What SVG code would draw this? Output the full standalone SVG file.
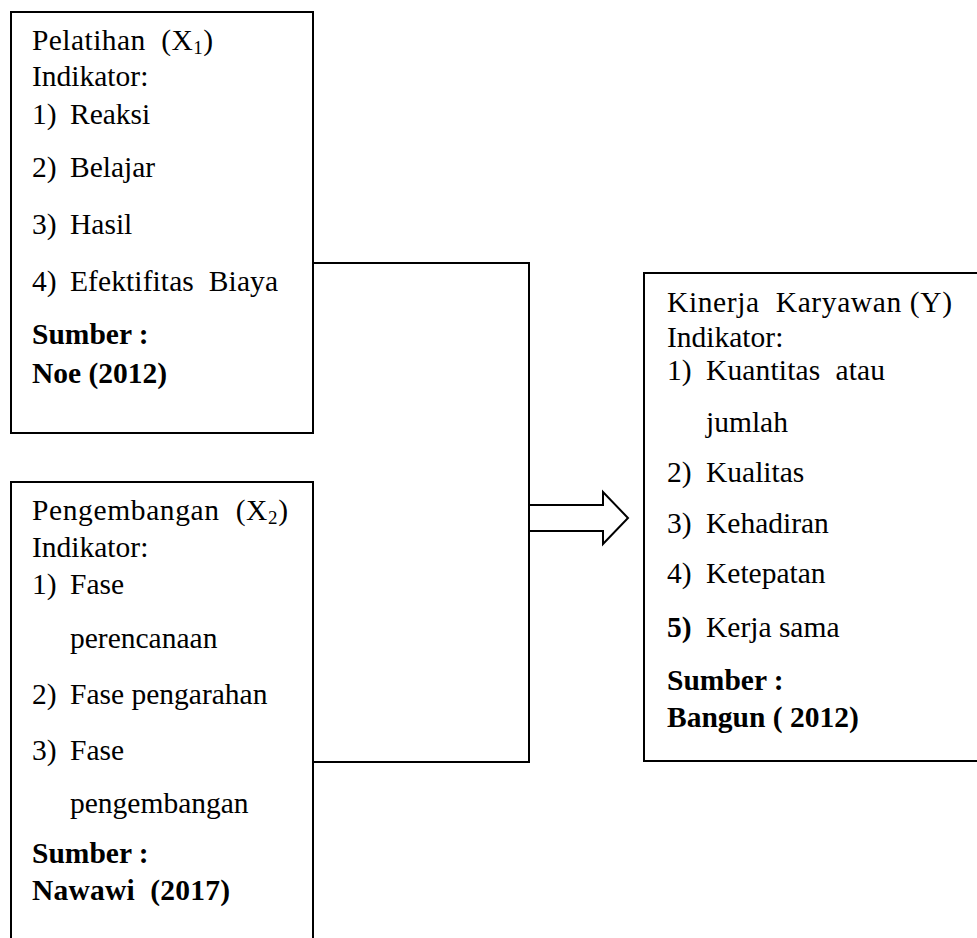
<svg xmlns="http://www.w3.org/2000/svg" width="977" height="938" viewBox="0 0 977 938">
<style>
  .box { fill: #fff; stroke: #000; stroke-width: 2; }
  .t { font-family: "Liberation Serif", "Times New Roman", serif; font-size: 29.5px; fill: #000; white-space: pre; }
  .b { font-weight: bold; }
  .sub { font-size: 19px; }
  .conn { fill: none; stroke: #000; stroke-width: 2; }
</style>
<rect width="977" height="938" fill="#fff"/>
<g id="connectors">
  <polyline class="conn" points="313,263 529,263 529,762 313,762"/>
  <polygon class="conn" points="529,505 603,505 603,492 628,518 603,544 603,531 529,531" fill="#fff"/>
</g>
<g id="node-x1">
  <rect class="box" x="11" y="12" width="302" height="421"/>
  <text class="t" x="32" y="50" textLength="181" lengthAdjust="spacing">Pelatihan  (X<tspan class="sub" dy="4">1</tspan><tspan dy="-4">)</tspan></text>
  <text class="t" x="32" y="86">Indikator:</text>
  <text class="t" x="32" y="124">1)</text><text class="t" x="70" y="124">Reaksi</text>
  <text class="t" x="32" y="177">2)</text><text class="t" x="70" y="177">Belajar</text>
  <text class="t" x="32" y="234">3)</text><text class="t" x="70" y="234">Hasil</text>
  <text class="t" x="32" y="291">4)</text><text class="t" x="70" y="291" textLength="208" lengthAdjust="spacing">Efektifitas  Biaya</text>
  <text class="t b" x="32" y="344">Sumber :</text>
  <text class="t b" x="32" y="383">Noe (2012)</text>
</g>
<g id="node-x2">
  <path class="box" d="M11,945 V482 H313 V945"/>
  <text class="t" x="32" y="520" textLength="256" lengthAdjust="spacing">Pengembangan  (X<tspan class="sub" dy="4">2</tspan><tspan dy="-4">)</tspan></text>
  <text class="t" x="32" y="557">Indikator:</text>
  <text class="t" x="32" y="594">1)</text><text class="t" x="70" y="594">Fase</text>
  <text class="t" x="70" y="648">perencanaan</text>
  <text class="t" x="32" y="704">2)</text><text class="t" x="70" y="704">Fase pengarahan</text>
  <text class="t" x="32" y="760">3)</text><text class="t" x="70" y="760">Fase</text>
  <text class="t" x="70" y="813">pengembangan</text>
  <text class="t b" x="32" y="863">Sumber :</text>
  <text class="t b" x="32" y="900" textLength="198" lengthAdjust="spacing">Nawawi  (2017)</text>
</g>
<g id="node-y">
  <rect class="box" x="644" y="273" width="345" height="488"/>
  <text class="t" x="667" y="312" textLength="285" lengthAdjust="spacing">Kinerja  Karyawan (Y)</text>
  <text class="t" x="667" y="347">Indikator:</text>
  <text class="t" x="667" y="380">1)</text><text class="t" x="706" y="380" textLength="179" lengthAdjust="spacing">Kuantitas  atau</text>
  <text class="t" x="706" y="432">jumlah</text>
  <text class="t" x="667" y="482">2)</text><text class="t" x="706" y="482">Kualitas</text>
  <text class="t" x="667" y="533">3)</text><text class="t" x="706" y="533">Kehadiran</text>
  <text class="t" x="667" y="583">4)</text><text class="t" x="706" y="583">Ketepatan</text>
  <text class="t b" x="667" y="637">5)</text><text class="t" x="706" y="637">Kerja sama</text>
  <text class="t b" x="667" y="690">Sumber :</text>
  <text class="t b" x="667" y="727">Bangun ( 2012)</text>
</g>
</svg>
